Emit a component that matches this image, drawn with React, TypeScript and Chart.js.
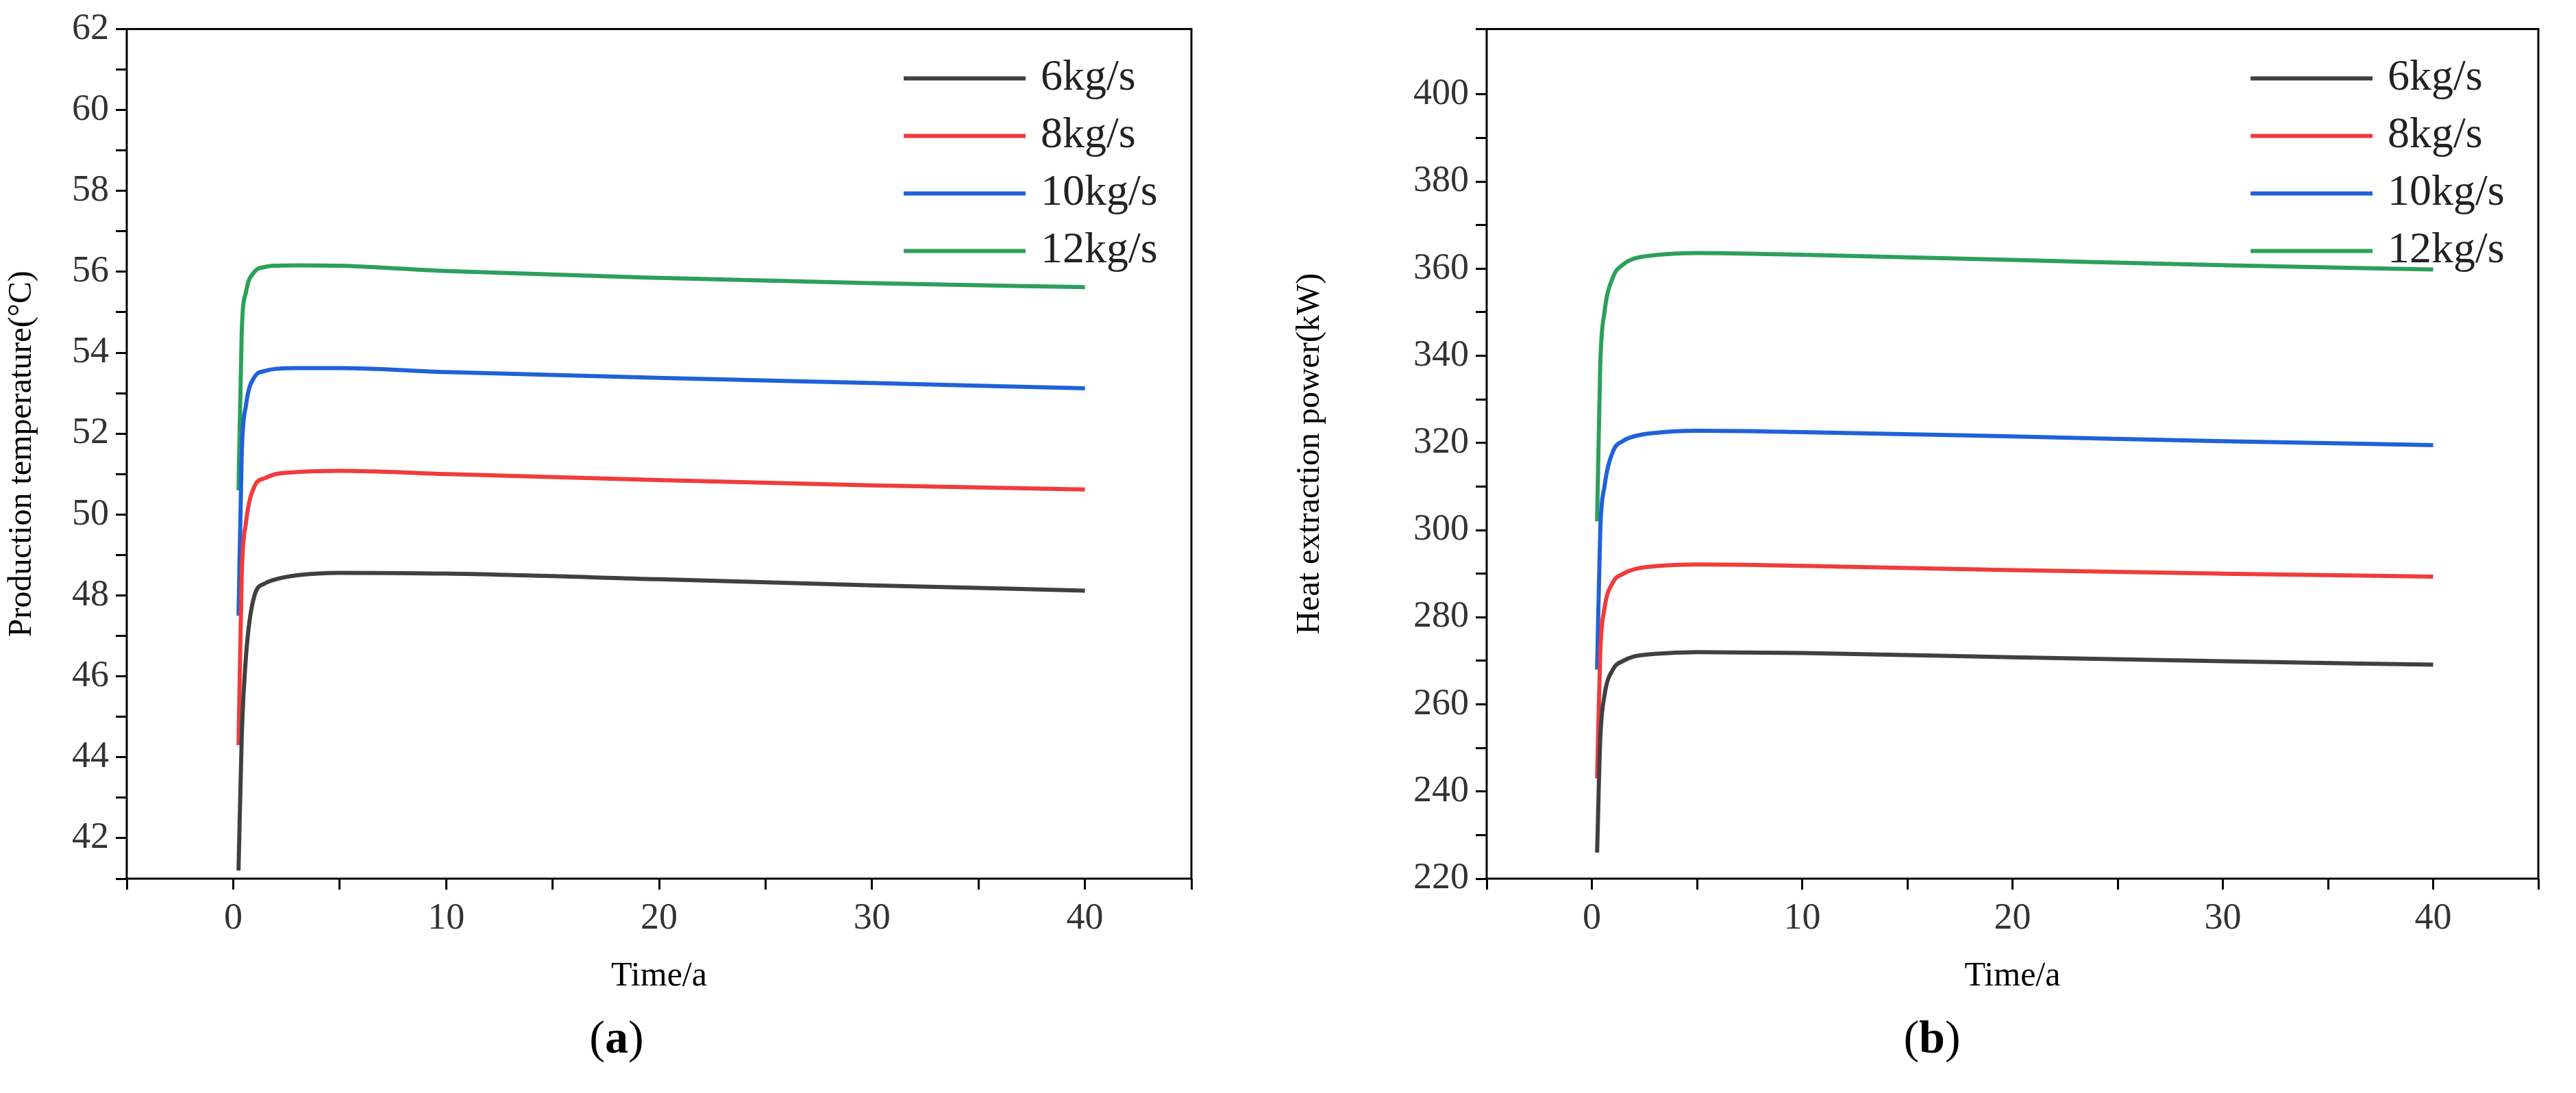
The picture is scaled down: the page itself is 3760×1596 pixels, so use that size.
import React, { useEffect, useRef } from "react";
import { Chart, registerables } from "chart.js";
Chart.register(...registerables);

const seriesNames = ["6kg/s", "8kg/s", "10kg/s", "12kg/s"];
const colors = ["#404040", "#f03c3c", "#1f62d8", "#2ca05a"];

const tA = [0.25, 0.4, 0.6, 1, 1.5, 2, 3, 5, 10, 20, 30, 40];
const tempA6 = [41.2, 44.5, 46.5, 48.0, 48.3, 48.4, 48.5, 48.56, 48.54, 48.4, 48.25, 48.12];
const tempA8 = [44.3, 48.5, 49.8, 50.7, 50.9, 51.0, 51.05, 51.08, 51.0, 50.85, 50.72, 50.62];
const tempA10 = [47.5, 51.5, 52.7, 53.4, 53.55, 53.6, 53.62, 53.62, 53.52, 53.38, 53.25, 53.12];
const tempA12 = [50.6, 54.5, 55.5, 56.0, 56.12, 56.15, 56.16, 56.15, 56.02, 55.85, 55.72, 55.62];

const tB = [0.25, 0.4, 0.6, 1, 1.5, 2, 3, 5, 10, 20, 30, 40];
const powB6 = [226, 252, 262, 268, 270, 271, 271.6, 272, 271.8, 270.8, 269.9, 269.1];
const powB8 = [243, 272, 282, 288, 290, 291, 291.7, 292.1, 291.8, 290.8, 290.0, 289.3];
const powB10 = [268, 300, 310, 318, 320.5, 321.5, 322.3, 322.8, 322.5, 321.5, 320.4, 319.5];
const powB12 = [302, 338, 350, 358, 361, 362.3, 363.1, 363.6, 363.2, 362.0, 360.8, 359.8];

const FONT = "'Liberation Serif', serif";

function mk(xs: number[], ys: number[]) {
  return xs.map((x, i) => ({ x, y: ys[i] }));
}

const framePlugin = {
  id: "frame",
  afterDraw(chart: any) {
    const { ctx, chartArea: a } = chart;
    ctx.save();
    ctx.strokeStyle = "#000";
    ctx.lineWidth = 3;
    ctx.strokeRect(a.left, a.top, a.right - a.left, a.bottom - a.top);
    const lx = a.right - 420;
    let ly = a.top + 72;
    ctx.font = `64px ${FONT}`;
    ctx.textBaseline = "middle";
    chart.data.datasets.forEach((d: any, i: number) => {
      ctx.strokeStyle = d.borderColor;
      ctx.lineWidth = 6;
      ctx.beginPath();
      ctx.moveTo(lx, ly);
      ctx.lineTo(lx + 178, ly);
      ctx.stroke();
      ctx.fillStyle = "#222";
      ctx.fillText(d.label, lx + 200, ly);
      ly += 84;
    });
    ctx.restore();
  },
};

function Panel(props: {
  left: number; width: number; xs: number[]; ys: number[][];
  ymin: number; ymax: number; ystep: number; ylabEvery: number;
  title: string; yAxisW: number; padRight: number;
}) {
  const ref = useRef<HTMLCanvasElement>(null);
  useEffect(() => {
    const chart = new Chart(ref.current!, {
      type: "line",
      data: {
        datasets: props.ys.map((y, i) => ({
          label: seriesNames[i],
          data: mk(props.xs, y),
          borderColor: colors[i],
          backgroundColor: colors[i],
          borderWidth: 6,
          pointRadius: 0,
          cubicInterpolationMode: "monotone" as const,
        })),
      },
      plugins: [framePlugin],
      options: {
        responsive: false,
        animation: false,
        layout: { padding: { top: 34, right: props.padRight, left: 0, bottom: 0 } },
        plugins: { legend: { display: false }, tooltip: { enabled: false } },
        scales: {
          x: {
            type: "linear", min: -5, max: 45,
            border: { display: false },
            grid: { drawOnChartArea: false, tickLength: 16, color: "#000", lineWidth: 3 },
            ticks: {
              stepSize: 5, color: "#333", font: { family: FONT, size: 54 }, padding: 10,
              callback: (v: any) => (v % 10 === 0 && v >= 0 && v <= 40 ? String(v) : ""),
              maxRotation: 0, autoSkip: false,
            },
            title: { display: true, text: "Time/a", color: "#000", font: { family: FONT, size: 50 }, padding: { top: 0 } },
            afterFit: (s: any) => { s.height = 177; },
          },
          y: {
            min: props.ymin, max: props.ymax,
            border: { display: false },
            grid: { drawOnChartArea: false, tickLength: 16, color: "#000", lineWidth: 3 },
            ticks: {
              stepSize: props.ystep, color: "#333", font: { family: FONT, size: 54 }, padding: 10,
              callback: (v: any) => (Math.round(v) % props.ylabEvery === 0 ? String(v) : ""),
              autoSkip: false,
            },
            title: { display: true, text: props.title, color: "#000", font: { family: FONT, size: 48 } },
            afterFit: (s: any) => { s.width = props.yAxisW; },
          },
        },
      },
    } as any);
    return () => chart.destroy();
  }, []);
  return (
    <canvas ref={ref} width={props.width} height={1460}
      style={{ position: "absolute", left: props.left, top: 0, width: props.width, height: 1460 }} />
  );
}

export default function App() {
  useEffect(() => { document.body.style.margin = "0"; }, []);
  return (
    <div style={{ position: "relative", width: 3760, height: 1596, background: "#fff" }}>
      <Panel left={0} width={1800} xs={tA} ys={[tempA6, tempA8, tempA10, tempA12]}
        ymin={41} ymax={62} ystep={1} ylabEvery={2} title="Production temperature(°C)" yAxisW={185} padRight={61} />
      <Panel left={1880} width={1880} xs={tB} ys={[powB6, powB8, powB10, powB12]}
        ymin={220} ymax={415} ystep={10} ylabEvery={20} title="Heat extraction power(kW)" yAxisW={290} padRight={55} />
      <div style={{ position: "absolute", left: 0, width: 1800, top: 1475, textAlign: "center", fontFamily: FONT, fontSize: 68 }}>
        (<b>a</b>)
      </div>
      <div style={{ position: "absolute", left: 1880, width: 1880, top: 1475, textAlign: "center", fontFamily: FONT, fontSize: 68 }}>
        (<b>b</b>)
      </div>
    </div>
  );
}
